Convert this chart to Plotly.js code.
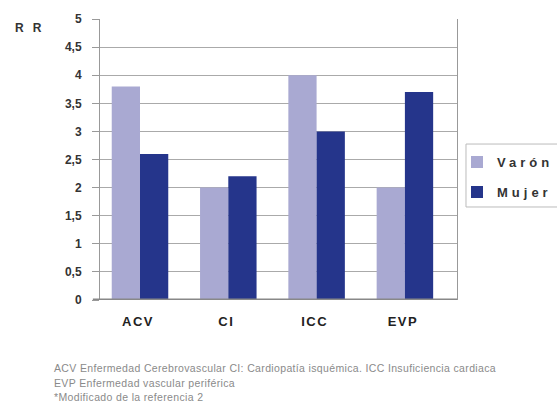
<!DOCTYPE html>
<html>
<head>
<meta charset="utf-8">
<script src="https://cdn.plot.ly/plotly-3.0.1.min.js"></script>
<style>
html,body{margin:0;padding:0;background:#fff;}
#chart{width:557px;height:405px;}
.legendtext{letter-spacing:4px;}
.xtick text{letter-spacing:1.5px;}
</style>
</head>
<body>
<div id="chart"></div>
<script>
var categories = ['ACV', 'CI', 'ICC', 'EVP'];
var varon = [3.8, 2.0, 4.0, 2.0];
var mujer = [2.6, 2.2, 3.0, 3.7];
var yTickVals = [0, 0.5, 1, 1.5, 2, 2.5, 3, 3.5, 4, 4.5, 5];
var yTickText = ['0', '0,5', '1', '1,5', '2', '2,5', '3', '3,5', '4', '4,5', '5'];
var seriesNames = ['Varón', 'Mujer'];
var yAxisLabel = 'RR';
var footnotes = [
  'ACV Enfermedad Cerebrovascular CI: Cardiopatía isquémica. ICC Insuficiencia cardiaca',
  'EVP Enfermedad vascular periférica',
  '*Modificado de la referencia 2'
];

var traces = [
  {type:'bar', name:seriesNames[0], legendgroup:'v', x:categories, y:varon, marker:{color:'#a9a9d2'}},
  {type:'bar', name:seriesNames[1], legendgroup:'m', x:categories, y:mujer, marker:{color:'#25358b'}}
];

var annotations = [
  {text:yAxisLabel, xref:'paper', yref:'paper', x:-0.2437, y:0.968, xanchor:'left', yanchor:'middle', align:'left', showarrow:false,
   font:{family:'Liberation Sans, Arial', size:12, color:'#333', weight:'bold'}}
];
var footY = [-0.242, -0.295, -0.345];
footnotes.forEach(function(t, i){
  annotations.push({text:t, xref:'paper', yref:'paper', x:-0.1345, y:footY[i], xanchor:'left', yanchor:'middle', align:'left',
    showarrow:false, font:{family:'Liberation Sans, Arial', size:10.5, color:'#8a8a8a'}});
});

var layout = {
  width:557, height:405,
  margin:{l:100, r:100, t:19, b:105, autoexpand:false},
  paper_bgcolor:'#fff', plot_bgcolor:'#fff',
  barmode:'group', bargap:0.36, bargroupgap:0,
  showlegend:true,
  legend:{x:1.0, y:0.544, xanchor:'left', yanchor:'top', bgcolor:'rgba(0,0,0,0)', borderwidth:0,
    font:{family:'Liberation Sans, Arial', size:13, color:'#333', weight:'bold'}, tracegroupgap:10, itemwidth:30},
  xaxis:{range:[-0.453, 3.59], showgrid:false, showline:false, ticks:'', ticklabelshift:-2,
    tickfont:{family:'Liberation Sans, Arial', size:13, color:'#222', weight:'bold'}, ticklabelstandoff:12},
  yaxis:{range:[0,5], tickvals:yTickVals, ticktext:yTickText, showgrid:true, gridcolor:'#aaa', gridwidth:1.2,
    showline:true, linecolor:'#999', linewidth:1, mirror:true, ticks:'outside', ticklen:7, tickcolor:'#999',
    ticklabelstandoff:8,
    tickfont:{family:'Liberation Sans, Arial', size:12, color:'#333', weight:'bold'}, zeroline:false},
  shapes:[
    {type:'line', xref:'paper', yref:'y', x0:-0.02, x1:1.0, y0:0, y1:0, line:{color:'#888', width:3}},
    {type:'rect', xref:'paper', yref:'paper', x0:1.0252, x1:1.4, y0:0.331, y1:0.555, line:{color:'#bbb', width:1}, layer:'below'}
  ],
  annotations:annotations
};

Plotly.newPlot('chart', traces, layout, {staticPlot:true}).then(function(){
  var a = document.querySelectorAll('.annotation-text');
  for (var i = 0; i < a.length; i++) {
    a[i].style.letterSpacing = (i === 0) ? '9px' : '0.35px';
  }
});
</script>
</body>
</html>
